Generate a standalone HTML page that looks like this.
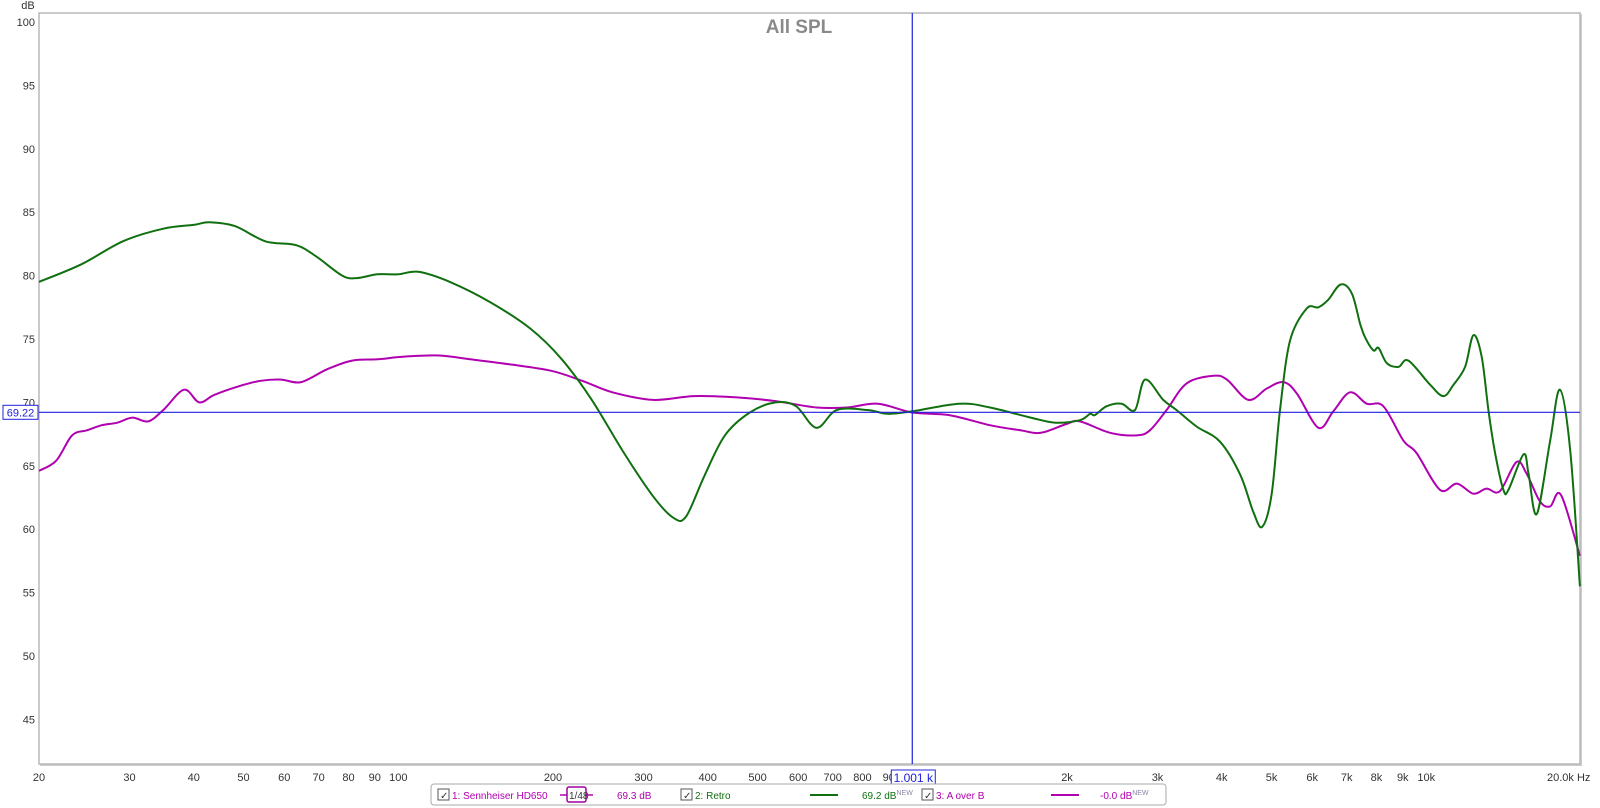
<!DOCTYPE html>
<html><head><meta charset="utf-8"><style>
body{margin:0;background:#fff;width:1600px;height:808px;overflow:hidden;font-family:"Liberation Sans",sans-serif}
svg{position:absolute;left:0;top:0}
</style></head><body>
<svg id="chart" width="1600" height="808">
<rect x="40" y="14" width="1542" height="752" fill="#ccc"/>
<rect x="39" y="13" width="1541" height="751" fill="#fff" stroke="#b8b8b8" stroke-width="1.5"/>
<text x="799" y="33" text-anchor="middle" font-size="19" font-weight="bold" fill="#8a8a8a">All SPL</text>
<text x="28" y="9" text-anchor="middle" font-size="11" fill="#333">dB</text>
<g id="yticks"></g><g id="xticks"></g><g id="series"></g><g id="cursor"></g>
<g>
<rect x="431" y="784" width="735" height="21" rx="3" fill="#fff" stroke="#aaa"/>
<rect x="438" y="789" width="11" height="11" fill="#fff" stroke="#555"/>
<text x="440" y="799" font-size="10" fill="#333">✓</text>
<text x="452" y="799" font-size="10" fill="#b000b0">1: Sennheiser HD650</text>
<line x1="560" y1="795" x2="567" y2="795" stroke="#b000b0" stroke-width="1.5"/><line x1="586" y1="795" x2="593" y2="795" stroke="#b000b0" stroke-width="1.5"/>
<rect x="567" y="787" width="19" height="15" rx="2" fill="#fff" stroke="#a000a0" stroke-width="1.5"/>
<text x="569" y="799" font-size="10" fill="#333">1/48</text>
<text x="617" y="799" font-size="10" fill="#b000b0">69.3 dB</text>
<rect x="681" y="789" width="11" height="11" fill="#fff" stroke="#555"/>
<text x="683" y="799" font-size="10" fill="#333">✓</text>
<text x="695" y="799" font-size="10" fill="#107010">2: Retro</text>
<line x1="810" y1="795" x2="838" y2="795" stroke="#107010" stroke-width="2"/>
<text x="862" y="799" font-size="10" fill="#107010">69.2 dB<tspan font-size="7" fill="#88a" dy="-4">NEW</tspan></text>
<rect x="922" y="789" width="11" height="11" fill="#fff" stroke="#555"/>
<text x="924" y="799" font-size="10" fill="#333">✓</text>
<text x="936" y="799" font-size="10" fill="#b000b0">3: A over B</text>
<line x1="1051" y1="795" x2="1079" y2="795" stroke="#b000b0" stroke-width="2"/>
<text x="1100" y="799" font-size="10" fill="#b000b0">-0.0 dB<tspan font-size="7" fill="#88a" dy="-4">NEW</tspan></text>
</g>
</svg>
<script>
const yTicks=[100,95,90,85,80,75,70,65,60,55,50,45];
const xTickVals=[20,30,40,50,60,70,80,90,100,200,300,400,500,600,700,800,900,2000,3000,4000,5000,6000,7000,8000,9000,10000,20000];
const xTickLabels=["20","30","40","50","60","70","80","90","100","200","300","400","500","600","700","800","90","2k","3k","4k","5k","6k","7k","8k","9k","10k","20.0k Hz"];
const greenFreq=[20,24.2,29.1,34.9,40,42.9,48.1,55.2,63.3,69.3,77.8,83,91,100,109.5,126,151,181,208,238,273,313,343,363,394,432,483,542,594,651,713,818,896,1000,1234,1416,1700,1900,2119,2218,2265,2389,2554,2712,2837,3078,3266,3573,3970,4345,4613,4798,5004,5193,5434,5850,6167,6447,6815,7164,7435,7609,7893,8075,8380,8829,9230,10170,10800,11300,11900,12350,12820,13210,13610,14130,14450,15460,15810,16410,17420,18200,19050,19900];
const greenDb=[79.5,80.9,82.7,83.7,84.0,84.2,83.9,82.7,82.4,81.5,80.0,79.8,80.1,80.1,80.3,79.5,77.9,75.8,73.4,70.2,66.2,62.6,60.9,61.0,64.2,67.4,69.2,70.0,69.7,68.0,69.4,69.4,69.1,69.3,69.9,69.6,68.8,68.4,68.6,69.1,69.0,69.7,69.9,69.4,71.8,70.2,69.4,68.1,66.9,64.3,61.3,60.2,62.8,69.4,74.9,77.4,77.5,78.1,79.3,78.6,76.2,75.1,74.1,74.3,73.1,72.8,73.3,71.4,70.5,71.4,72.8,75.3,73.6,69.4,66.0,63.1,63.1,65.9,64.4,61.2,67.0,71.0,66.3,55.5];
const magFreq=[20,21.6,23.2,24.8,26.5,28.4,30.4,32.6,34.9,38.3,41,43.9,49.2,54,59.1,64.7,72.6,81.3,91.2,102,120,138,165,198,228,261,313,376,452,542,651,747,857,1000,1180,1416,1623,1779,1995,2119,2426,2734,2899,3125,3418,3853,4093,4508,4896,5276,5600,6169,6595,7107,7658,8250,9022,9576,10640,11470,12350,13100,13900,14980,15670,16640,17420,18290,19900];
const magDb=[64.6,65.4,67.4,67.8,68.2,68.4,68.8,68.5,69.4,71.0,70.0,70.6,71.3,71.7,71.8,71.6,72.6,73.3,73.4,73.6,73.7,73.4,73.0,72.5,71.7,70.8,70.2,70.5,70.4,70.1,69.6,69.6,69.9,69.2,69.0,68.2,67.8,67.6,68.3,68.5,67.6,67.4,67.8,69.4,71.5,72.1,71.8,70.2,71.1,71.6,70.7,68.0,69.3,70.8,69.9,69.7,67.0,66.0,63.1,63.6,62.8,63.2,63.0,65.3,64.4,62.2,61.8,62.7,57.9];
const cursorFreq=1000, cursorDb=69.22;
const NS="http://www.w3.org/2000/svg";
const X=f=>39+514*Math.log10(f/20);
const Y=d=>22+(100-d)*12.68;
function mk(tag,attrs,parent,txt){const e=document.createElementNS(NS,tag);for(const k in attrs)e.setAttribute(k,attrs[k]);if(txt!==undefined)e.textContent=txt;parent.appendChild(e);return e;}
const yg=document.getElementById('yticks');
yTicks.forEach(v=>{const t=mk('text',{x:35,y:Y(v)+4,'text-anchor':'end','font-size':11,fill:'#333'},yg,String(v));

});
const xg=document.getElementById('xticks');
xTickVals.forEach((v,i)=>{const last=i===xTickVals.length-1;const t=mk('text',{x:last?X(v)-34:X(v),y:781,'text-anchor':last?'start':'middle','font-size':11,fill:'#333'},xg,xTickLabels[i]);

});
const sg=document.getElementById('series');
function smoothPath(p){let d='M'+p[0][0].toFixed(1)+','+p[0][1].toFixed(1);
for(let i=0;i<p.length-1;i++){const p0=p[Math.max(0,i-1)],p1=p[i],p2=p[i+1],p3=p[Math.min(p.length-1,i+2)];
const c1=[p1[0]+(p2[0]-p0[0])/6,p1[1]+(p2[1]-p0[1])/6],c2=[p2[0]-(p3[0]-p1[0])/6,p2[1]-(p3[1]-p1[1])/6];
d+='C'+c1.map(v=>v.toFixed(1)).join(',')+' '+c2.map(v=>v.toFixed(1)).join(',')+' '+p2[0].toFixed(1)+','+p2[1].toFixed(1);}
return d;}
function line(fr,db,color,name){const pts=fr.map((f,i)=>[X(f),Y(db[i])]);
const p=mk('path',{d:smoothPath(pts),fill:'none',stroke:color,'stroke-width':2,'stroke-linejoin':'round'},sg);

}
line(magFreq,magDb,'#b000b0','series-a-over-b');
line(greenFreq,greenDb,'#107010','series-retro');
const cg=document.getElementById('cursor');
const cx=X(cursorFreq),cy=Y(cursorDb);
const vl=mk('line',{x1:cx,y1:13,x2:cx,y2:764,stroke:'#2020e0','stroke-width':1.2},cg);


const hl=mk('line',{x1:39,y1:cy,x2:1580,y2:cy,stroke:'#2020e0','stroke-width':1.2},cg);


const yb=mk('rect',{x:3,y:cy-7,width:35,height:14,fill:'#fff',stroke:'#2020e0'},cg);


mk('text',{x:20.5,y:cy+4,'text-anchor':'middle','font-size':11,fill:'#2020e0'},cg,cursorDb.toFixed(2));
const xb=mk('rect',{x:cx-21,y:770,width:44,height:15,fill:'#fff',stroke:'#2020e0'},cg);


mk('text',{x:cx+1,y:782,'text-anchor':'middle','font-size':12,fill:'#2020e0'},cg,(cursorFreq*1.001/1000).toFixed(3)+' k');
</script>
</body></html>
